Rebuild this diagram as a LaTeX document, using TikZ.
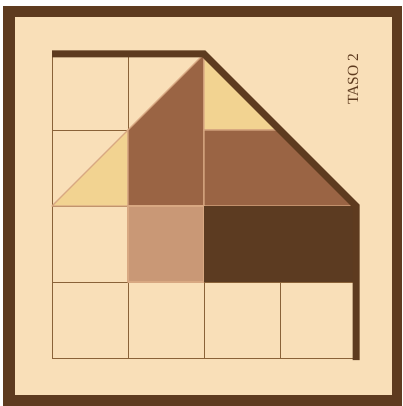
\documentclass[tikz,border=0pt]{standalone}
\usepackage{fontspec}
\setmainfont{Liberation Serif}
\definecolor{frame}{HTML}{5E3B1F}
\definecolor{paper}{HTML}{F9DFB8}
\definecolor{gridc}{HTML}{8A6238}
\definecolor{yel}{HTML}{F2D391}
\definecolor{midb}{HTML}{9A6444}
\definecolor{tan}{HTML}{C99876}
\definecolor{dark}{HTML}{5C3B21}
\definecolor{edge}{HTML}{D8A882}
\begin{document}
\begin{tikzpicture}[x=1pt,y=-1pt,
  gridline/.style={draw=gridc,line width=0.9pt},
  piece/.style={draw=edge,line width=1.2pt,line join=round},
  outline/.style={draw=frame,line width=7pt,line join=miter}]
\useasboundingbox (0,0) rectangle (402,406);
\fill[white] (0,0) rectangle (402,406);
\fill[frame] (3,6) rectangle (402,406);
\fill[paper] (15,17) rectangle (392,395);
% grid
\draw[gridline] (52,54) -- (52,358);
\draw[gridline] (128,54) -- (128,358);
\draw[gridline] (204,54) -- (204,358);
\draw[gridline] (280,206) -- (280,358);
\draw[gridline] (52,130) -- (128,130);
\foreach \y in {206,282,358}{\draw[gridline] (52,\y) -- (356,\y);}
% pieces
\path[piece,fill=yel] (52,206) -- (128,130) -- (128,206) -- cycle;
\path[piece,fill=midb] (128,130) -- (204,54) -- (204,206) -- (128,206) -- cycle;
\path[piece,fill=yel] (204,54) -- (280,130) -- (204,130) -- cycle;
\path[piece,fill=midb] (204,130) -- (280,130) -- (356,206) -- (204,206) -- cycle;
\path[piece,fill=tan] (128,206) rectangle (204,282);
\fill[dark] (204,206) rectangle (356,282);
\draw[gridline] (204,282) -- (356,282);
% outline
\coordinate (a) at (52,54);
\coordinate (b) at (204,54);
\coordinate (c) at (356,206);
\coordinate (d) at (356,360);
\draw[outline] (a) -- (b) -- (c) -- (d);
\node[rotate=90,text=frame,font=\fontsize{15.5}{18}\selectfont,inner sep=0pt] (t) at (353,79) {TASO 2};
\end{tikzpicture}
\end{document}
